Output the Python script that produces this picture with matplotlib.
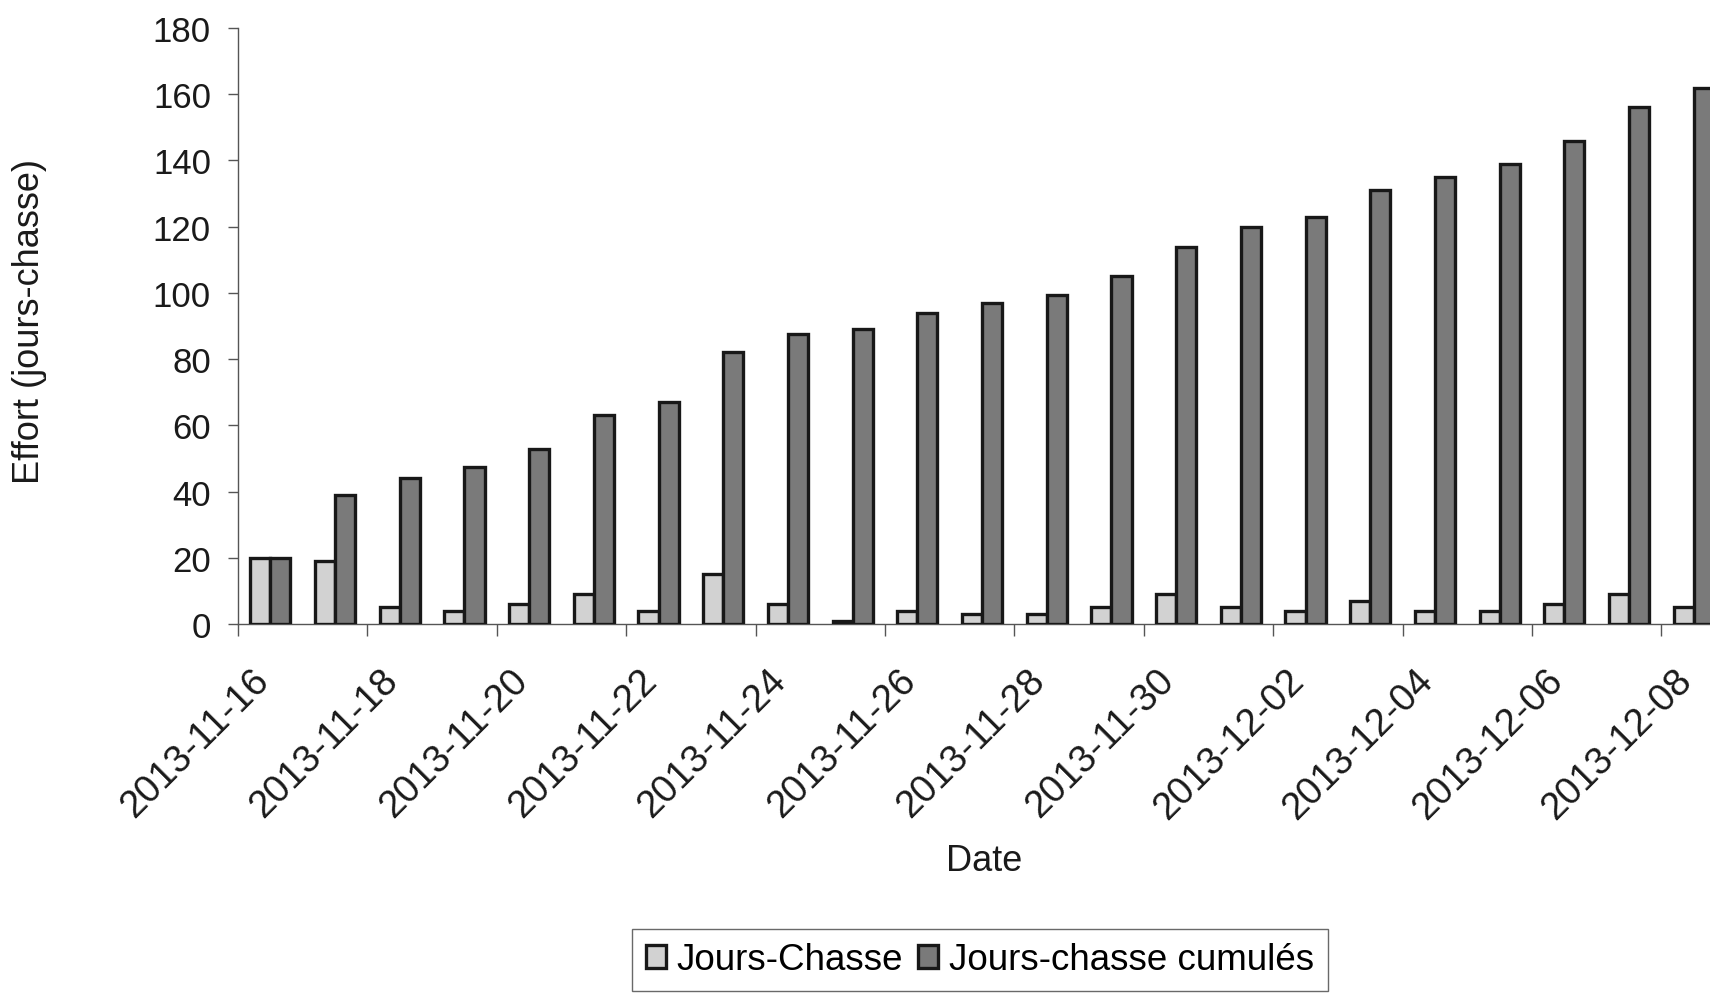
import numpy as np
import matplotlib
matplotlib.use("Agg")
import matplotlib.pyplot as plt
from matplotlib.transforms import ScaledTranslation

plt.rcParams['font.family'] = ['Liberation Sans', 'DejaVu Sans']

dates = ["2013-11-16", "2013-11-17", "2013-11-18", "2013-11-19", "2013-11-20",
         "2013-11-21", "2013-11-22", "2013-11-23", "2013-11-24", "2013-11-25",
         "2013-11-26", "2013-11-27", "2013-11-28", "2013-11-29", "2013-11-30",
         "2013-12-01", "2013-12-02", "2013-12-03", "2013-12-04", "2013-12-05",
         "2013-12-06", "2013-12-07", "2013-12-08"]
jours_chasse = [20, 19, 5, 4, 6, 9, 4, 15, 6, 1, 4, 3, 3, 5, 9, 5, 4, 7, 4, 4, 6, 9, 5]
jours_cumules = [20, 39, 44, 47.5, 53, 63, 67, 82, 87.5, 89, 94, 97, 99.5, 105, 114,
                 120, 123, 131, 135, 139, 146, 156, 162]
y_ticks = [0, 20, 40, 60, 80, 100, 120, 140, 160, 180]

W, H = 1710, 995
fig = plt.figure(figsize=(W / 100, H / 100), dpi=100)
fig.patch.set_facecolor('white')

ax_left, ax_right = 238 / W, (238 + 23 * 64.7) / W
ax_bottom, ax_top = 1 - 625 / H, 1 - 29 / H
ax = fig.add_axes([ax_left, ax_bottom, ax_right - ax_left, ax_top - ax_bottom])

x = np.arange(len(dates))
bw = 0.31
b1 = ax.bar(x - bw / 2, jours_chasse, width=bw, color='#d2d2d2', edgecolor='#181818',
            linewidth=2.4, label='Jours-Chasse', zorder=3)
b2 = ax.bar(x + bw / 2, jours_cumules, width=bw, color='#7a7a7a', edgecolor='#181818',
            linewidth=2.4, label='Jours-chasse cumulés', zorder=3)

ax.set_xlim(-0.5, len(dates) - 0.5)
ax.set_ylim(0, 180)
ax.set_yticks(y_ticks)
ax.set_yticklabels([str(v) for v in y_ticks])

# major ticks at category boundaries every 2 days (no labels)
ax.set_xticks(np.arange(-0.5, len(dates), 2))
ax.set_xticklabels([])
# labels at category centres every 2 days
lab_pos = x[::2]
ax.set_xticks(lab_pos, minor=True)
ax.set_xticklabels([dates[i] for i in lab_pos], minor=True, rotation=45,
                   ha='right', va='top', rotation_mode='anchor', fontsize=27.5)
ax.tick_params(axis='x', which='minor', length=0, pad=27)
ax.tick_params(axis='x', which='major', length=8.5, width=1.0, color='#555555', direction='out')
ax.tick_params(axis='y', length=7.5, width=1.0, color='#555555', direction='out',
               labelsize=25, pad=12)
off = ScaledTranslation(-20 / 100, 0, fig.dpi_scale_trans)
for lbl in ax.get_xticklabels(minor=True):
    lbl.set_transform(lbl.get_transform() + off)

for s in ['top', 'right']:
    ax.spines[s].set_visible(False)
for s in ['left', 'bottom']:
    ax.spines[s].set_color('#555555')
    ax.spines[s].set_linewidth(1.0)
ax.set_facecolor('white')

fig.text(30 / W, 1 - 322 / H, 'Effort (jours-chasse)', rotation=90, ha='center',
         va='center', fontsize=26, color='#1a1a1a')
fig.text(984 / W, 1 - 862 / H, 'Date', ha='center', va='center', fontsize=26,
         color='#1a1a1a')

leg = fig.legend(handles=[b1, b2], loc='center', bbox_to_anchor=(980 / W, 1 - 961 / H),
                 ncol=2, fontsize=26.5, frameon=True, fancybox=False, handlelength=0.55,
                 handleheight=0.55, handletextpad=0.3, columnspacing=0.4,
                 borderpad=0.38, borderaxespad=0)
leg.get_frame().set_edgecolor('#444444')
leg.get_frame().set_linewidth(1.0)

for t in ax.get_yticklabels() + ax.get_xticklabels(minor=True):
    t.set_color('#1a1a1a')

fig.savefig('out.png', dpi=100, facecolor='white')
